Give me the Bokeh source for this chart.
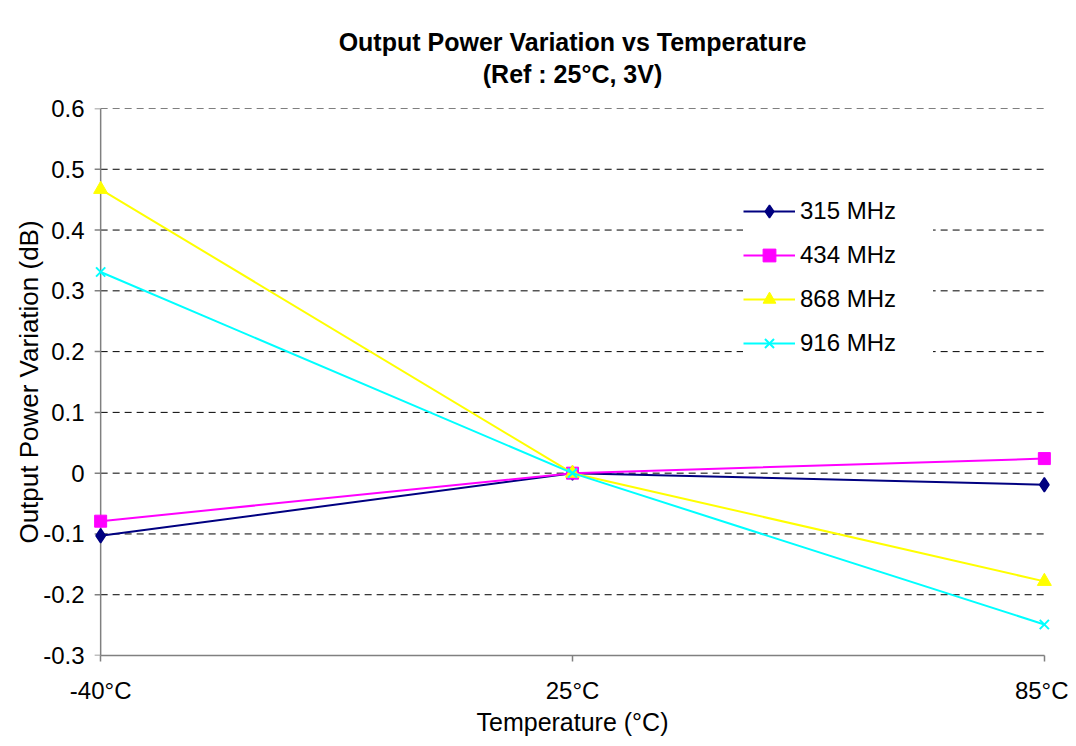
import numpy as np
from bokeh.plotting import figure
from bokeh.models import Range1d, FixedTicker, Legend, LegendItem, LinearAxis
from bokeh.embed import file_html
from bokeh.resources import INLINE

# ---- data ----
temps = ["-40°C", "25°C", "85°C"]
series_names = ["315 MHz", "434 MHz", "868 MHz", "916 MHz"]
v315 = [-0.103, 0.0, -0.019]
v434 = [-0.079, 0.0, 0.024]
v868 = [0.467, 0.0, -0.178]
v916 = [0.331, 0.0, -0.249]
y_ticks = [-0.3, -0.2, -0.1, 0.0, 0.1, 0.2, 0.3, 0.4, 0.5, 0.6]
y_tick_labels = ["-0.3", "-0.2", "-0.1", "0", "0.1", "0.2", "0.3", "0.4", "0.5", "0.6"]
title_lines = ["Output Power Variation vs Temperature", "(Ref : 25°C, 3V)"]
x_label = "Temperature (°C)"
y_label = "Output Power Variation (dB)"

FONT = "Liberation Sans"
AXIS_GREY = "#808080"
x = list(range(len(temps)))
pad = 0.03
n_y = len(y_ticks)

p = figure(width=1068, height=738, output_backend="svg", toolbar_location=None,
           x_range=Range1d(x[0] - pad, x[-1] + pad),
           y_range=Range1d(y_ticks[0], y_ticks[-1]),
           min_border_left=86, min_border_right=10, min_border_top=108, min_border_bottom=81)
p.outline_line_color = None
p.background_fill_color = "white"
p.border_fill_color = "white"
p.xgrid.visible = False
p.ygrid.visible = False

# dashed horizontal gridlines, spanning the category extent
p.segment(x0=[x[0]] * n_y, x1=[x[-1]] * n_y, y0=y_ticks, y1=y_ticks,
          line_color="#000000", line_width=1, line_dash="7 5", level="underlay")

# value-axis line and its ticks, sitting on the first category
p.segment(x0=[x[0]], x1=[x[0]], y0=[y_ticks[0]], y1=[y_ticks[-1]],
          line_color=AXIS_GREY, line_width=1.5)
p.ray(x=[x[0]] * n_y, y=y_ticks, length=6, length_units="screen", angle=np.pi,
      line_color=AXIS_GREY, line_width=1.5)

# ---- y axis labels (left side, no line of its own)
ya = p.yaxis[0]
ya.ticker = FixedTicker(ticks=y_ticks)
ya.major_label_overrides = dict(zip(y_ticks, y_tick_labels))
ya.axis_line_color = None
ya.major_tick_line_color = None
ya.minor_tick_line_color = None
ya.major_tick_in = 0
ya.major_tick_out = 0
ya.major_label_standoff = 2
ya.major_label_text_font = FONT
ya.major_label_text_font_size = "24px"
ya.major_label_text_color = "black"
ya.axis_label = y_label
ya.axis_label_text_font = FONT
ya.axis_label_text_font_size = "26px"
ya.axis_label_text_font_style = "normal"
ya.axis_label_text_color = "black"
ya.axis_label_standoff = -4

# ---- x axis
xa = p.xaxis[0]
xa.ticker = FixedTicker(ticks=x)
xa.major_label_overrides = {i: t for i, t in zip(x, temps)}
xa.bounds = (x[0], x[-1])
xa.axis_line_color = AXIS_GREY
xa.axis_line_width = 1.5
xa.major_tick_line_color = AXIS_GREY
xa.major_tick_line_width = 1.5
xa.major_tick_in = 0
xa.major_tick_out = 6
xa.minor_tick_line_color = None
xa.major_label_standoff = 15
xa.major_label_text_font = FONT
xa.major_label_text_font_size = "24px"
xa.major_label_text_color = "black"
xa.axis_label = x_label
xa.axis_label_text_font = FONT
xa.axis_label_text_font_size = "25px"
xa.axis_label_text_font_style = "normal"
xa.axis_label_text_color = "black"
xa.axis_label_standoff = 1

# ---- series
l1 = p.line(x, v315, line_color="#000080", line_width=2)
m1 = p.scatter(x, v315, marker="diamond", size=14, line_width=1.5,
               fill_color="#000080", line_color="#000080")
l2 = p.line(x, v434, line_color="#FF00FF", line_width=2)
m2 = p.scatter(x, v434, marker="square", size=12,
               fill_color="#FF00FF", line_color="#FF00FF")
l3 = p.line(x, v868, line_color="#FFFF00", line_width=2)
m3 = p.scatter(x, v868, marker="triangle", size=14,
               fill_color="#FFFF00", line_color="#FFFF00")
l4 = p.line(x, v916, line_color="#00FFFF", line_width=2)
m4 = p.scatter(x, v916, marker="x", size=13, line_color="#00FFFF", line_width=2)

legend = Legend(items=[
    LegendItem(label=series_names[0], renderers=[l1, m1]),
    LegendItem(label=series_names[1], renderers=[l2, m2]),
    LegendItem(label=series_names[2], renderers=[l3, m3]),
    LegendItem(label=series_names[3], renderers=[l4, m4]),
], location=(657, 296))
legend.background_fill_color = "white"
legend.background_fill_alpha = 1.0
legend.border_line_color = None
legend.label_text_font = FONT
legend.label_text_font_size = "24px"
legend.label_text_color = "black"
legend.glyph_width = 52
legend.glyph_height = 32
legend.label_height = 32
legend.label_width = 133
legend.label_standoff = 5
legend.spacing = 12
legend.padding = 8
legend.margin = 0
p.add_layout(legend)

# ---- title: second line as the label of a bare top axis, first line as the plot title
top = LinearAxis(ticker=FixedTicker(ticks=[]), axis_label=title_lines[1])
top.axis_line_color = None
top.major_tick_line_color = None
top.minor_tick_line_color = None
top.major_tick_in = 0
top.major_tick_out = 0
top.major_label_standoff = 0
top.axis_label_text_font = FONT
top.axis_label_text_font_style = "bold"
top.axis_label_text_font_size = "25px"
top.axis_label_text_color = "black"
top.axis_label_standoff = 21
p.add_layout(top, "above")

p.title.text = title_lines[0]
p.title.align = "center"
p.title.text_font = FONT
p.title.text_font_style = "bold"
p.title.text_font_size = "25px"
p.title.text_color = "black"
p.title.standoff = 2

open("out.html", "w").write(file_html(p, INLINE))
